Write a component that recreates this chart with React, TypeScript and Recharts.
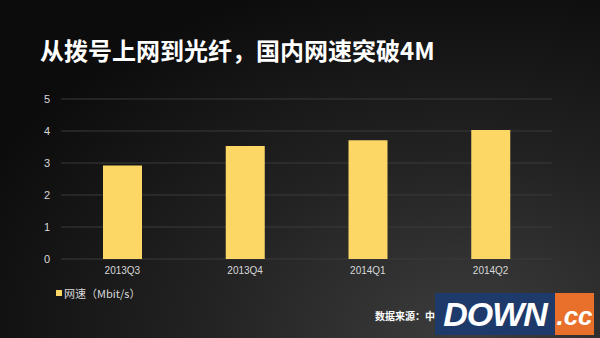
import React from 'react';
import { BarChart, Bar, XAxis, YAxis, CartesianGrid } from 'recharts';

const quarters = ['2013Q3', '2013Q4', '2014Q1', '2014Q2'];
const speeds = [2.92, 3.53, 3.71, 4.03];
const yTicks = [0, 1, 2, 3, 4, 5];
const seriesName = '网速（Mbit/s）';

const data = quarters.map((q, i) => ({ quarter: q, speed: speeds[i] }));

const BAR = '#fdd766';
const FONT = '"Noto Sans CJK SC", "Noto Sans", sans-serif';
const TICK_FONT = '"Liberation Sans", Arial, sans-serif';

export default function App() {
  return (
    <div
      style={{
        position: 'absolute',
        left: 0,
        top: 0,
        width: 600,
        height: 338,
        overflow: 'hidden',
        background: 'radial-gradient(ellipse 90% 110% at 78% 100%, #3d3d3d 0%, #222 50%, #0c0c0c 100%)',
      }}
    >
      {/* 标题 */}
      <div
        style={{
          position: 'absolute',
          left: 40,
          top: 33,
          fontFamily: FONT,
          fontWeight: 700,
          fontSize: 24,
          lineHeight: '34px',
          color: '#fff',
          whiteSpace: 'nowrap',
        }}
      >
        从拨号上网到光纤，国内网速突破4M
      </div>

      <div style={{ position: 'absolute', left: 0, top: 0 }}>
        <BarChart width={600} height={338} data={data} margin={{ top: 99, right: 48, left: 31, bottom: 55 }}>
          <CartesianGrid vertical={false} stroke="#3a3a3a" />
          <XAxis
            dataKey="quarter"
            axisLine={false}
            tickLine={false}
            height={24}
            tick={{ fill: '#d8d8d8', fontSize: 10, fontFamily: TICK_FONT }}
          />
          <YAxis
            width={30}
            domain={[0, 5]}
            ticks={yTicks}
            axisLine={false}
            tickLine={false}
            tick={{ fill: '#d8d8d8', fontSize: 11, fontFamily: TICK_FONT, dx: -3 }}
          />
          <Bar dataKey="speed" name={seriesName} fill={BAR} barSize={39} isAnimationActive={false} />
        </BarChart>
      </div>

      {/* 图例 */}
      <div
        style={{
          position: 'absolute',
          left: 56,
          top: 285,
          display: 'flex',
          alignItems: 'center',
          fontFamily: FONT,
          fontSize: 11,
          color: '#d8d8d8',
          whiteSpace: 'nowrap',
        }}
      >
        <span style={{ width: 6, height: 6, background: BAR, display: 'inline-block', marginRight: 2 }} />
        {seriesName}
      </div>

      {/* 数据来源 */}
      <div
        style={{
          position: 'absolute',
          left: 375,
          top: 308,
          fontFamily: FONT,
          fontWeight: 700,
          fontSize: 10,
          color: '#fff',
          whiteSpace: 'nowrap',
        }}
      >
        数据来源：中
      </div>

      {/* DOWN.cc 水印 */}
      <div style={{ position: 'absolute', left: 435, top: 293, height: 42, display: 'flex' }}>
        <div
          style={{
            width: 120,
            background: '#1d3a6b',
            color: '#fff',
            fontFamily: TICK_FONT,
            fontWeight: 700,
            fontStyle: 'italic',
            fontSize: 34,
            lineHeight: '42px',
            textAlign: 'center',
            letterSpacing: -1,
          }}
        >
          DOWN
        </div>
        <div
          style={{
            width: 39,
            background: '#e8702a',
            color: '#fff',
            fontFamily: TICK_FONT,
            fontWeight: 700,
            fontStyle: 'italic',
            fontSize: 26,
            lineHeight: '46px',
            textAlign: 'center',
          }}
        >
          .cc
        </div>
      </div>
    </div>
  );
}
